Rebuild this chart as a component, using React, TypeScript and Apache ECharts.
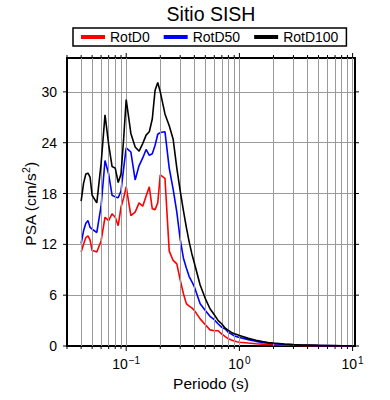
import React, { useEffect, useRef } from 'react';
import * as echarts from 'echarts';

const periods = [
  0.04, 0.042, 0.044, 0.046, 0.048, 0.05, 0.055, 0.06, 0.065, 0.07, 0.075, 0.08, 0.085, 0.09, 0.095,
  0.1, 0.11, 0.12, 0.13, 0.14, 0.15, 0.16, 0.17, 0.18, 0.19,
  0.2, 0.22, 0.24, 0.26, 0.28, 0.3, 0.32, 0.34, 0.36, 0.38,
  0.4, 0.45, 0.5, 0.55, 0.6, 0.65, 0.7, 0.75, 0.8, 0.85, 0.9, 0.95,
  1.0, 1.2, 1.4, 1.6, 1.8, 2.0, 2.5, 3.0, 3.5, 4, 5, 6, 7, 8, 9, 10,
];

const rotD0 = [
  11.1, 12.0, 12.8, 13.0, 12.5, 11.3, 11.1, 12.4, 15.2, 14.8, 15.6, 15.2, 14.2, 16.4, 17.5,
  18.8, 15.4, 15.8, 16.9, 16.5, 17.7, 18.8, 16.2, 16.1, 16.9,
  20.2, 19.8, 11.2, 10.1, 9.7, 7.8, 6.2, 5.0, 4.7, 4.5,
  4.2, 3.2, 2.5, 1.9, 1.8, 1.8, 1.4, 1.1, 0.85, 0.7, 0.6, 0.5,
  0.45, 0.35, 0.27, 0.22, 0.18, 0.15, 0.1, 0.08, 0.06, 0.05, 0.04, 0.03, 0.02, 0.02, 0.02, 0.01,
];

const rotD50 = [
  12.1, 13.6, 14.5, 14.8, 14.0, 13.8, 13.4, 16.5, 21.9, 20.3, 17.8, 17.6, 17.5, 18.3, 21.0,
  23.4, 22.9, 19.6, 21.3, 22.2, 23.2, 22.5, 22.7, 23.7, 25.0,
  25.2, 25.3, 21.0, 18.5, 15.8, 12.6, 10.4, 9.2, 8.2, 7.6,
  7.0, 5.0, 4.2, 3.5, 3.1, 2.6, 2.2, 2.0, 1.6, 1.4, 1.2, 1.1,
  1.0, 0.75, 0.55, 0.42, 0.34, 0.28, 0.19, 0.13, 0.1, 0.08, 0.05, 0.04, 0.03, 0.03, 0.02, 0.02,
];

const rotD100 = [
  17.1, 19.2, 20.3, 20.4, 19.9, 17.8, 16.9, 21.5, 27.3, 23.8, 21.2, 21.0, 19.3, 20.3, 24.5,
  29.1, 25.1, 23.5, 23.0, 23.9, 24.9, 25.3, 26.8, 30.2, 31.1,
  30.0, 27.4, 26.0, 24.4, 21.0, 18.3, 16.0, 14.0, 12.3, 10.9,
  9.8, 7.2, 5.6, 4.4, 3.7, 3.0, 2.6, 2.1, 1.85, 1.6, 1.45, 1.35,
  1.25, 0.9, 0.68, 0.52, 0.42, 0.35, 0.24, 0.16, 0.12, 0.1, 0.07, 0.05, 0.04, 0.03, 0.03, 0.02,
];

const seriesNames = ['RotD0', 'RotD50', 'RotD100'];
const seriesColors = ['#ff0000', '#0000ff', '#000000'];
const yTicks = [0, 6, 12, 18, 24, 30];
const xMajorTicks = [0.1, 1, 10];
const xMinorTicks = [
  0.03, 0.04, 0.05, 0.06, 0.07, 0.08, 0.09,
  0.2, 0.3, 0.4, 0.5, 0.6, 0.7, 0.8, 0.9,
  2, 3, 4, 5, 6, 7, 8, 9,
];
const xGridLines = [
  0.04, 0.05, 0.06, 0.07, 0.08, 0.09, 0.1,
  0.2, 0.3, 0.4, 0.5, 0.6, 0.7, 0.8, 0.9, 1,
  2, 3, 4, 5, 6, 7, 8, 9, 10,
];

const X_MIN = 0.03;
const X_MAX = 10.5;
const Y_MIN = 0;
const Y_MAX = 34;
const FONT = '"Liberation Sans", Arial, Helvetica, sans-serif';

export default function App() {
  const ref = useRef<HTMLDivElement>(null);

  useEffect(() => {
    if (!ref.current) return;
    const chart = echarts.init(ref.current, null, { renderer: 'svg' });
    const allSeries = [rotD0, rotD50, rotD100];

    const option: any = {
      animation: false,
      textStyle: { fontFamily: FONT },
      legend: {
        top: 28,
        left: 73,
        orient: 'horizontal',
        itemWidth: 24,
        itemHeight: 4,
        itemGap: 14,
        icon: 'rect',
        borderColor: '#000',
        borderWidth: 1.5,
        borderRadius: 0,
        padding: [2, 8],
        selectedMode: false,
        textStyle: { fontSize: 14, color: '#000', fontFamily: FONT },
        data: seriesNames,
      },
      grid: { left: 67, right: 35, top: 58, bottom: 54, containLabel: false },
      xAxis: [
        {
          type: 'log',
          logBase: 10,
          min: X_MIN,
          max: X_MAX,
          position: 'bottom',
          axisLine: { show: true, onZero: false, lineStyle: { color: '#000', width: 2 } },
          axisTick: { show: false },
          minorTick: { show: false },
          splitLine: { show: false },
          axisLabel: {
            margin: 9,
            color: '#000',
            showMinLabel: true,
            showMaxLabel: true,
            formatter: (v: number) => {
              const e = Math.log10(v);
              const r = Math.round(e);
              if (Math.abs(e - r) > 1e-6) return '';
              const exp = r < 0 ? '\u2212' + Math.abs(r) : String(r);
              return '{b|10}{s|' + exp + '}';
            },
            rich: {
              b: { fontSize: 14, color: '#000', fontFamily: FONT },
              s: { fontSize: 10, color: '#000', fontFamily: FONT, padding: [0, 0, 8, 1] },
            },
          },
        },
        {
          type: 'log',
          logBase: 10,
          min: X_MIN,
          max: X_MAX,
          position: 'top',
          axisLine: { show: true, onZero: false, lineStyle: { color: '#000', width: 2 } },
          axisTick: { show: false },
          axisLabel: { show: false },
          splitLine: { show: false },
        },
      ],
      yAxis: [
        {
          type: 'value',
          min: Y_MIN,
          max: Y_MAX,
          interval: 6,
          position: 'left',
          axisLine: { show: true, onZero: false, lineStyle: { color: '#000', width: 2 } },
          axisTick: { show: false },
          axisLabel: { fontSize: 14, color: '#000', margin: 10, showMaxLabel: false, fontFamily: FONT },
          splitLine: { show: true, lineStyle: { color: '#9a9a9a', width: 1 } },
        },
        {
          type: 'value',
          min: Y_MIN,
          max: Y_MAX,
          interval: 6,
          position: 'right',
          axisLine: { show: true, onZero: false, lineStyle: { color: '#000', width: 2 } },
          axisTick: { show: false },
          axisLabel: { show: false },
          splitLine: { show: false },
        },
      ],
      series: [
        {
          type: 'line',
          data: [],
          silent: true,
          z: 1,
          markLine: {
            silent: true,
            symbol: ['none', 'none'],
            label: { show: false },
            emphasis: { disabled: true },
            lineStyle: { color: '#9a9a9a', width: 1, type: 'solid' },
            data: xGridLines.map((v) => ({ xAxis: v })),
          },
        },
        ...seriesNames.map((name, i) => ({
          name,
          type: 'line',
          z: 3 + i,
          showSymbol: false,
          symbol: 'none',
          color: seriesColors[i],
          lineStyle: { color: seriesColors[i], width: 1.6 },
          data: periods.map((p, j) => [p, allSeries[i][j]]),
        })),
      ],
    };

    chart.setOption(option);

    const px = (v: number) => chart.convertToPixel({ xAxisIndex: 0 }, v) as number;
    const py = (v: number) => chart.convertToPixel({ yAxisIndex: 0 }, v) as number;
    const yB = py(Y_MIN);
    const yT = py(Y_MAX);
    const xL = px(X_MIN);
    const xR = px(X_MAX);

    const tickStyle = { stroke: '#000', lineWidth: 1 };
    const els: any[] = [];
    const addXTick = (v: number, len: number) => {
      const x = px(v);
      els.push({ type: 'line', silent: true, shape: { x1: x, y1: yB, x2: x, y2: yB + len }, style: tickStyle });
      els.push({ type: 'line', silent: true, shape: { x1: x, y1: yT, x2: x, y2: yT - len }, style: tickStyle });
    };
    xMajorTicks.forEach((v) => addXTick(v, 5));
    xMinorTicks.forEach((v) => addXTick(v, 3));
    yTicks.forEach((v) => {
      const y = py(v);
      els.push({ type: 'line', silent: true, shape: { x1: xL - 4, y1: y, x2: xL, y2: y }, style: tickStyle });
      els.push({ type: 'line', silent: true, shape: { x1: xR, y1: y, x2: xR + 4, y2: y }, style: tickStyle });
    });

    els.push({
      type: 'text',
      x: (xL + xR) / 2,
      y: 14,
      silent: true,
      style: {
        text: 'Sitio SISH',
        fontSize: 19.5,
        fontFamily: FONT,
        fill: '#000',
        align: 'center',
        verticalAlign: 'middle',
        textAlign: 'center',
        textVerticalAlign: 'middle',
      },
    });
    els.push({
      type: 'text',
      x: (xL + xR) / 2,
      y: 383,
      silent: true,
      style: {
        text: 'Periodo (s)',
        fontSize: 15.5,
        fontFamily: FONT,
        fill: '#000',
        align: 'center',
        verticalAlign: 'middle',
        textAlign: 'center',
        textVerticalAlign: 'middle',
      },
    });
    els.push({
      type: 'text',
      x: 30,
      y: 204,
      rotation: Math.PI / 2,
      silent: true,
      style: {
        text: '{a|PSA (cm/s}{s|2}{a|)}',
        align: 'center',
        verticalAlign: 'middle',
        textAlign: 'center',
        textVerticalAlign: 'middle',
        fill: '#000',
        rich: {
          a: { fontSize: 15.5, fontFamily: FONT, fill: '#000', color: '#000' },
          s: { fontSize: 10.5, fontFamily: FONT, fill: '#000', color: '#000', padding: [0, 0, 8, 0] },
        },
      },
    });

    chart.setOption({ graphic: els });

    return () => {
      chart.dispose();
    };
  }, []);

  return (
    <div
      ref={ref}
      style={{ position: 'fixed', left: 0, top: 0, width: 390, height: 400, background: '#fff' }}
    />
  );
}
